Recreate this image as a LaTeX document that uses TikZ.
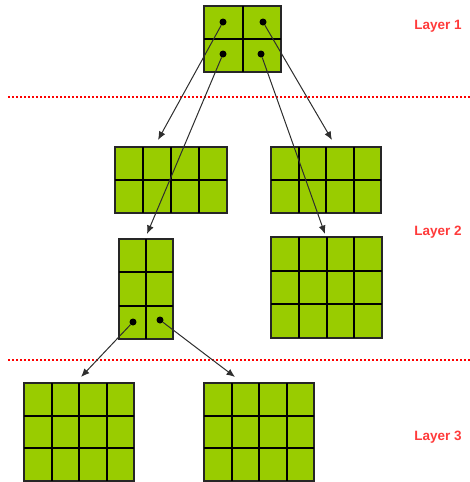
\documentclass[tikz,border=0pt]{standalone}
\usepackage{fontspec}
\setmainfont{Liberation Sans}
\usetikzlibrary{arrows.meta}
\definecolor{cellgreen}{HTML}{99CC00}
\definecolor{cellborder}{HTML}{262626}
\definecolor{layerred}{HTML}{FF3A3A}
\definecolor{linkgray}{HTML}{2E2E2E}

\tikzset{
  cellbox/.style={draw=cellborder, fill=cellgreen, line width=1.5pt, inner sep=0pt, outer sep=0pt, rectangle},
  cellline/.style={draw=black, line width=1.4pt},
  keydot/.style={circle, fill=black, inner sep=0pt, minimum size=7pt},
  link/.style={draw=linkgray, line width=1pt, -{Latex[length=8.5pt,width=7pt]}},
  layersep/.style={draw=red, line width=2pt, dash pattern=on 2pt off 2pt},
  layerlabel/.style={text=layerred, font=\fontsize{13.5}{15}\selectfont\bfseries, inner sep=0pt}
}

% #1 name, #2 left, #3 top, #4 width, #5 height, #6 columns, #7 rows
% inner cell lines are snapped to whole points so they all look alike
\newcommand\cellgrid[7]{%
  \node[cellbox, minimum width=#4pt, minimum height=#5pt, anchor=north west] (#1) at (#2,#3) {};
  \pgfmathtruncatemacro\lastcol{#6-1}%
  \pgfmathtruncatemacro\lastrow{#7-1}%
  \foreach \c in {1,...,\lastcol}{
    \pgfmathsetmacro\dx{round(\c*#4/#6)}
    \draw[cellline] ([xshift=\dx pt]#1.north west) -- ([xshift=\dx pt]#1.south west);
  }
  \foreach \r in {1,...,\lastrow}{
    \pgfmathsetmacro\dy{round(\r*#5/#7)}
    \draw[cellline] ([yshift=-\dy pt]#1.north west) -- ([yshift=-\dy pt]#1.north east);
  }
}

\begin{document}
\begin{tikzpicture}[x=1pt, y=-1pt]
  \useasboundingbox (0,0) rectangle (470,482);

  % layer separators
  \coordinate (sepA-l) at (8,97);
  \coordinate (sepA-r) at (470,97);
  \coordinate (sepB-l) at (8,360);
  \coordinate (sepB-r) at (470,360);
  \draw[layersep] (sepA-l) -- (sepA-r);
  \draw[layersep] (sepB-l) -- (sepB-r);

  % layer 1
  \cellgrid{root}{204}{6}{77}{66}{2}{2}

  % layer 2
  \cellgrid{midA}{115}{147}{112}{66}{4}{2}
  \cellgrid{midB}{271}{147}{110}{66}{4}{2}
  \cellgrid{midC}{119}{239}{54}{100}{2}{3}
  \cellgrid{midD}{271}{237}{111}{101}{4}{3}

  % layer 3
  \cellgrid{leafA}{24}{383}{110}{98}{4}{3}
  \cellgrid{leafB}{204}{383}{110}{98}{4}{3}

  % pointer dots
  \node[keydot] (r1) at (223,22) {};
  \node[keydot] (r2) at (263,22) {};
  \node[keydot] (r3) at (223,54) {};
  \node[keydot] (r4) at (261,54) {};
  \node[keydot] (c1) at (133,322) {};
  \node[keydot] (c2) at (160,320) {};

  % arrow targets
  \coordinate (tA) at (158,140);
  \coordinate (tB) at (332,140);
  \coordinate (tC) at (147,234);
  \coordinate (tD) at (325,234);
  \coordinate (tE) at (81,377);
  \coordinate (tF) at (235,377);

  \draw[link] (r1) -- (tA);
  \draw[link] (r2) -- (tB);
  \draw[link] (r3) -- (tC);
  \draw[link] (r4) -- (tD);
  \draw[link] (c1) -- (tE);
  \draw[link] (c2) -- (tF);

  % layer labels
  \node[layerlabel] (lab1) at (438,26) {Layer 1};
  \node[layerlabel] (lab2) at (438,232) {Layer 2};
  \node[layerlabel] (lab3) at (438,437) {Layer 3};
\end{tikzpicture}
\end{document}
